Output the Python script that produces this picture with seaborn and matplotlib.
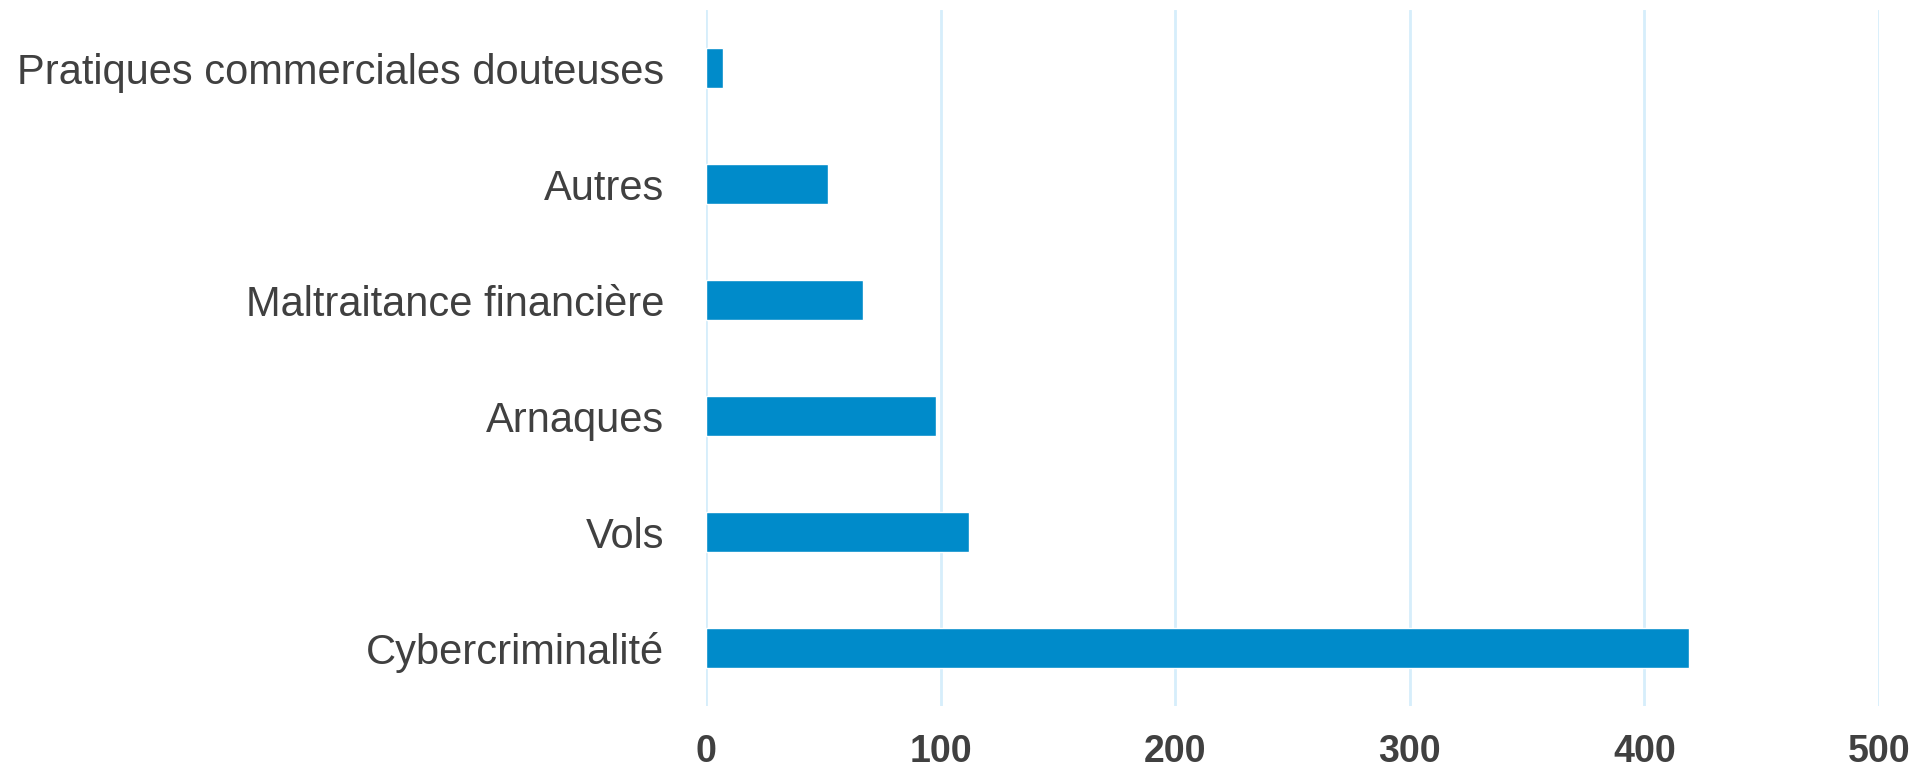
import matplotlib
matplotlib.use('Agg')
import matplotlib.pyplot as plt
import pandas as pd
import seaborn as sns

categories = [
    'Pratiques commerciales douteuses',
    'Autres',
    'Maltraitance financière',
    'Arnaques',
    'Vols',
    'Cybercriminalité',
]
values = [7, 52, 67, 98, 112, 419]
x_ticks = [0, 100, 200, 300, 400, 500]

BAR_COLOR = '#008BCA'
GRID_COLOR = '#D6EEFB'
TEXT_COLOR = '#404040'

sns.set_style('white')
plt.rcParams['font.family'] = ['Liberation Sans', 'DejaVu Sans']

df = pd.DataFrame({'categorie': categories, 'valeur': values})

fig = plt.figure(figsize=(19.24, 7.71), dpi=100)
ax = fig.add_axes([0.367, 0.0843, 0.6096, 0.9027])

sns.barplot(data=df, x='valeur', y='categorie', orient='h', color=BAR_COLOR,
            width=0.35, saturation=1, ax=ax)

ax.set_xlim(0, 500)
ax.set_ylim(5.5, -0.5)
ax.set_xticks(x_ticks)
ax.set_xlabel('')
ax.set_ylabel('')

for s in ax.spines.values():
    s.set_visible(False)

ax.grid(False)
for t in x_ticks:
    ax.axvline(t, color=GRID_COLOR, lw=2, zorder=0)

ax.tick_params(axis='y', length=0, pad=30, labelsize=30, labelcolor=TEXT_COLOR)
ax.tick_params(axis='x', length=0, pad=20, labelsize=27, labelcolor=TEXT_COLOR)
for lbl in ax.get_xticklabels():
    lbl.set_fontweight('bold')

fig.savefig('out.png', dpi=100)
